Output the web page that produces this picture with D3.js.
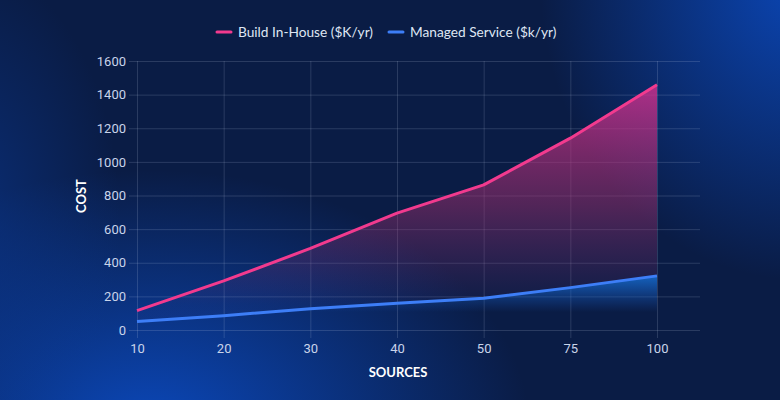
<!DOCTYPE html>
<html>
<head>
<meta charset="utf-8">
<script src="https://cdn.jsdelivr.net/npm/d3@7"></script>
<style>
  html, body { margin: 0; padding: 0; background: #0a1c45; }
  svg { display: block; }
</style>
</head>
<body>
<div id="main"></div>
<script>
// chart data
const sources = ["10", "20", "30", "40", "50", "75", "100"];
const buildInHouse = [115, 292, 485, 695, 863, 1141, 1459];
const managedService = [50, 85, 127, 159, 189, 252, 322];
const costTicks = [0, 200, 400, 600, 800, 1000, 1200, 1400, 1600];
const seriesNames = ["Build In-House ($K/yr)", "Managed Service ($k/yr)"];

const width = 780, height = 400;
const plotLeft = 137, plotRight = 657, gridRight = 700, plotTop = 61, plotBottom = 330;

const svg = d3.select("#main").append("svg")
  .attr("width", width)
  .attr("height", height);

const defs = svg.append("defs");

// background glows
const glow = (id, color, op) => {
  const g = defs.append("radialGradient").attr("id", id);
  g.append("stop").attr("offset", "0%").attr("stop-color", color).attr("stop-opacity", op);
  g.append("stop").attr("offset", "100%").attr("stop-color", color).attr("stop-opacity", 0);
};
glow("glowA", "#0b4ac0", 0.95);
glow("glowB", "#0b4ac0", 0.9);
glow("glowC", "#0a3a98", 0.6);

svg.append("rect").attr("width", width).attr("height", height).attr("fill", "#0a1c45");
svg.append("ellipse").attr("cx", 150).attr("cy", 430).attr("rx", 380).attr("ry", 260).attr("fill", "url(#glowA)");
svg.append("ellipse").attr("cx", 800).attr("cy", -20).attr("rx", 260).attr("ry", 300).attr("fill", "url(#glowB)");
svg.append("ellipse").attr("cx", -40).attr("cy", 220).attr("rx", 160).attr("ry", 260).attr("fill", "url(#glowC)");

// area gradients
const pinkGrad = defs.append("linearGradient").attr("id", "pinkFill")
  .attr("gradientUnits", "userSpaceOnUse")
  .attr("x1", 0).attr("y1", 85).attr("x2", 0).attr("y2", 305);
pinkGrad.append("stop").attr("offset", "0%").attr("stop-color", "#d6308f").attr("stop-opacity", 0.8);
pinkGrad.append("stop").attr("offset", "55%").attr("stop-color", "#a8306f").attr("stop-opacity", 0.45);
pinkGrad.append("stop").attr("offset", "100%").attr("stop-color", "#8a3070").attr("stop-opacity", 0.03);

const blueGrad = defs.append("linearGradient").attr("id", "blueFill")
  .attr("gradientUnits", "userSpaceOnUse")
  .attr("x1", 0).attr("y1", 276).attr("x2", 0).attr("y2", 312);
blueGrad.append("stop").attr("offset", "0%").attr("stop-color", "#1774dc").attr("stop-opacity", 0.8);
blueGrad.append("stop").attr("offset", "100%").attr("stop-color", "#1a60d0").attr("stop-opacity", 0);

const x = d3.scalePoint().domain(sources).range([plotLeft, plotRight]);
const y = d3.scaleLinear().domain([0, 1600]).range([plotBottom, plotTop]);

// grid
const grid = svg.append("g").attr("stroke", "rgba(200,215,240,0.17)").attr("stroke-width", 1);
grid.selectAll(".h").data(costTicks).join("line")
  .attr("x1", plotLeft - 8).attr("x2", gridRight)
  .attr("y1", d => y(d) + 0.5).attr("y2", d => y(d) + 0.5);
grid.selectAll(".v").data(sources).join("line")
  .attr("x1", d => x(d) + 0.5).attr("x2", d => x(d) + 0.5)
  .attr("y1", plotTop).attr("y2", plotBottom + 8);

const rows = sources.map((s, i) => ({ s, a: buildInHouse[i], b: managedService[i] }));

// areas
svg.append("path").datum(rows)
  .attr("fill", "url(#pinkFill)")
  .attr("d", d3.area().x(d => x(d.s)).y0(d => y(d.b)).y1(d => y(d.a)));
svg.append("path").datum(rows)
  .attr("fill", "url(#blueFill)")
  .attr("d", d3.area().x(d => x(d.s)).y0(plotBottom).y1(d => y(d.b)));

// lines
svg.append("path").datum(rows)
  .attr("fill", "none").attr("stroke", "#3d7ef7").attr("stroke-width", 3).attr("stroke-linejoin", "round")
  .attr("d", d3.line().x(d => x(d.s)).y(d => y(d.b)));
svg.append("path").datum(rows)
  .attr("fill", "none").attr("stroke", "#f23a8e").attr("stroke-width", 3).attr("stroke-linejoin", "round")
  .attr("d", d3.line().x(d => x(d.s)).y(d => y(d.a)));

// axes
const yAxis = svg.append("g").attr("transform", `translate(${plotLeft - 11},0)`)
  .call(d3.axisLeft(y).tickValues(costTicks).tickFormat(d3.format("d")).tickSize(0).tickPadding(0));
const xAxis = svg.append("g").attr("transform", `translate(0,${plotBottom + 11})`)
  .call(d3.axisBottom(x).tickSize(0).tickPadding(0));
[yAxis, xAxis].forEach(a => {
  a.select(".domain").remove();
  a.selectAll("text")
    .attr("fill", "#c9d4ea")
    .style("font-family", "Roboto, sans-serif")
    .style("font-size", "13px");
});
xAxis.selectAll("text").attr("dy", "0.95em");

svg.append("text")
  .attr("transform", "translate(86,196) rotate(-90)")
  .attr("text-anchor", "middle")
  .attr("fill", "#ffffff")
  .style("font-family", "Lato, sans-serif").style("font-weight", 700).style("font-size", "13px")
  .text("COST");
svg.append("text")
  .attr("x", 398).attr("y", 377)
  .attr("text-anchor", "middle")
  .attr("fill", "#ffffff")
  .style("font-family", "Lato, sans-serif").style("font-weight", 700).style("font-size", "13px")
  .text("SOURCES");

// legend
const legendColors = ["#f23a8e", "#3d7ef7"];
const legendX = [217, 389];
const legend = svg.selectAll(".legend").data(seriesNames).join("g")
  .attr("transform", (d, i) => `translate(${legendX[i]},32)`);
legend.append("line")
  .attr("x1", 0).attr("x2", 14)
  .attr("stroke", (d, i) => legendColors[i]).attr("stroke-width", 3).attr("stroke-linecap", "round");
legend.append("text")
  .attr("x", 21).attr("dy", "0.35em")
  .attr("fill", "#dfe6f3")
  .style("font-family", "Lato, sans-serif").style("font-size", "13.7px")
  .text(d => d);
</script>
</body>
</html>
